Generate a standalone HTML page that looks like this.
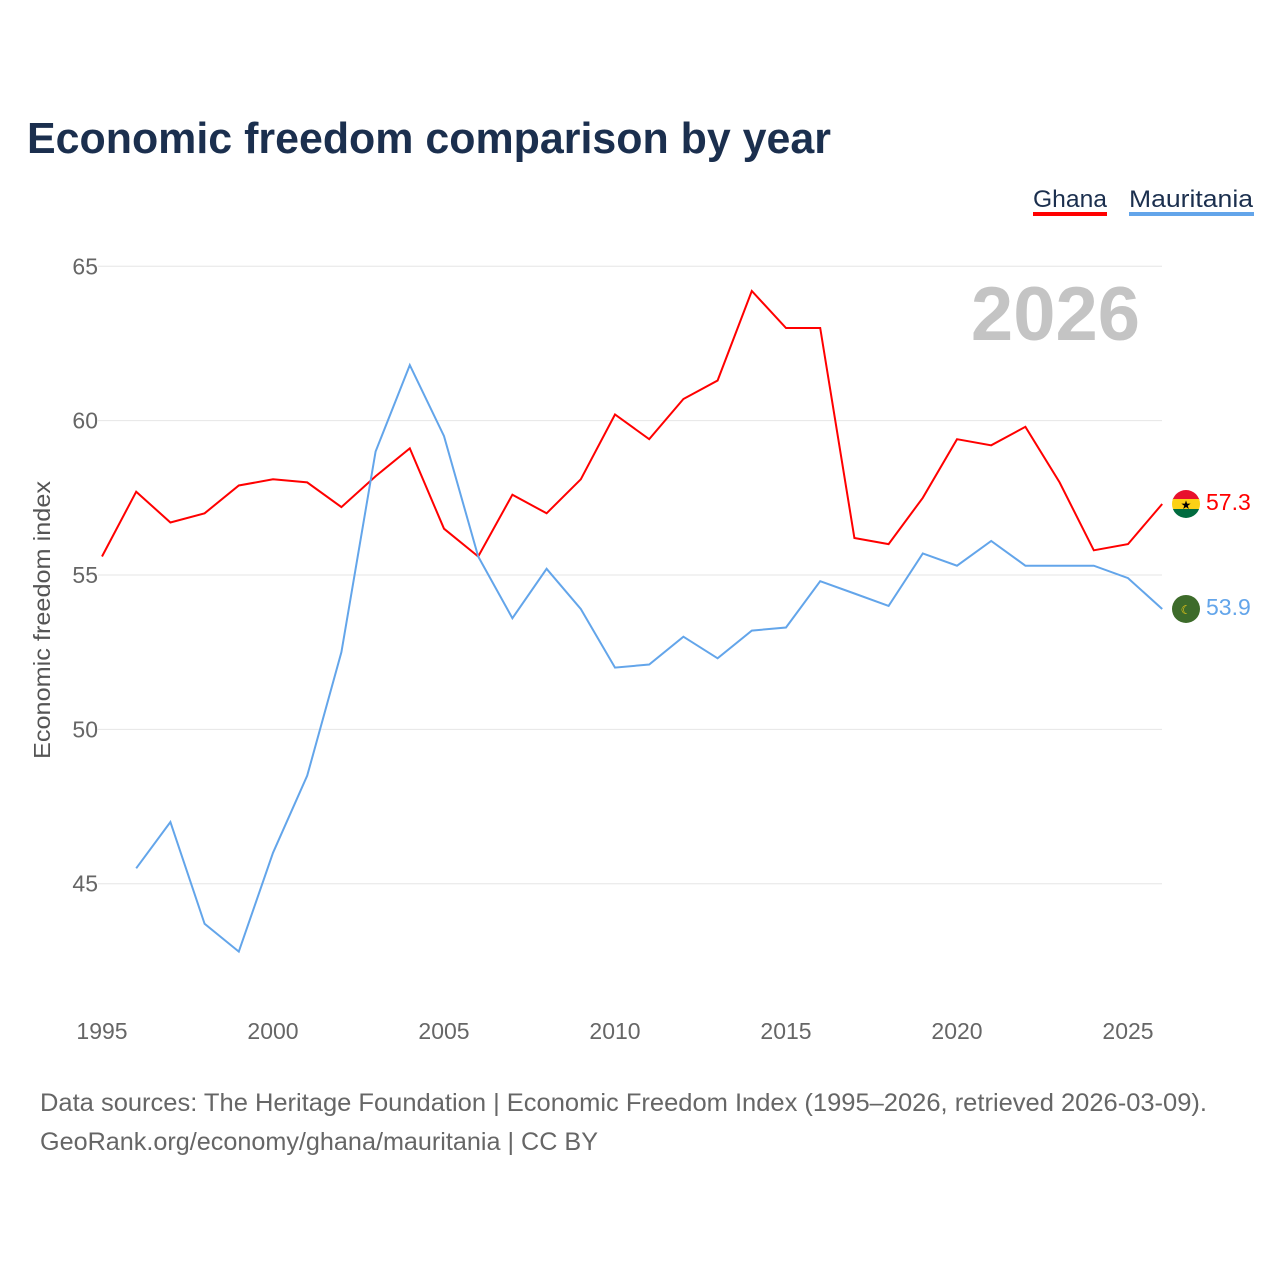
<!DOCTYPE html>
<html><head><meta charset="utf-8"><style>
body{margin:0;background:#fff;font-family:"Liberation Sans",sans-serif}
svg text{font-family:"Liberation Sans",sans-serif}
</style></head><body>
<svg id="c" width="1280" height="1280" viewBox="0 0 1280 1280">
<text x="27" y="153" font-size="44" font-weight="bold" fill="#1b2f4e" textLength="804" lengthAdjust="spacingAndGlyphs">Economic freedom comparison by year</text>
<g>
<text x="1033" y="207" font-size="24" fill="#1b2f4e" textLength="74" lengthAdjust="spacingAndGlyphs">Ghana</text>
<rect x="1033" y="212" width="74" height="4" fill="#ff0000"/>
<text x="1129" y="207" font-size="24" fill="#1b2f4e" textLength="124" lengthAdjust="spacingAndGlyphs">Mauritania</text>
<rect x="1129" y="212" width="125" height="4" fill="#63a5ea"/>
</g>
<text x="1140" y="340" font-size="76" font-weight="bold" fill="#c4c4c4" text-anchor="end">2026</text>
<text transform="translate(50,620) rotate(-90)" font-size="23" fill="#555" text-anchor="middle" textLength="278" lengthAdjust="spacingAndGlyphs">Economic freedom index</text>
<g id="grid"></g><g id="lines"></g>
<text x="40" y="1111" font-size="25" fill="#666" textLength="1167" lengthAdjust="spacingAndGlyphs">Data sources: The Heritage Foundation | Economic Freedom Index (1995–2026, retrieved 2026-03-09).</text>
<text x="40" y="1150" font-size="25" fill="#666" textLength="558" lengthAdjust="spacingAndGlyphs">GeoRank.org/economy/ghana/mauritania | CC BY</text>
</svg>
<script>
const years=[1995,1996,1997,1998,1999,2000,2001,2002,2003,2004,2005,2006,2007,2008,2009,2010,2011,2012,2013,2014,2015,2016,2017,2018,2019,2020,2021,2022,2023,2024,2025,2026];
const ghana=[55.6,57.7,56.7,57.0,57.9,58.1,58.0,57.2,58.2,59.1,56.5,55.6,57.6,57.0,58.1,60.2,59.4,60.7,61.3,64.2,63.0,63.0,56.2,56.0,57.5,59.4,59.2,59.8,58.0,55.8,56.0,57.3];
const mauritania=[null,45.5,47.0,43.7,42.8,46.0,48.5,52.5,59.0,61.8,59.5,55.6,53.6,55.2,53.9,52.0,52.1,53.0,52.3,53.2,53.3,54.8,54.4,54.0,55.7,55.3,56.1,55.3,55.3,55.3,54.9,53.9];
const yTicks=[45,50,55,60,65];
const xTicks=[1995,2000,2005,2010,2015,2020,2025];
const NS="http://www.w3.org/2000/svg";
const x=y=>102+(y-1995)*34.2;
const yy=v=>575-(v-55)*30.87;
const grid=document.getElementById('grid'),lines=document.getElementById('lines');
function mk(t,a,p){const e=document.createElementNS(NS,t);for(const k in a)e.setAttribute(k,a[k]);p.appendChild(e);return e;}
yTicks.forEach(v=>{
 const l=mk('line',{x1:98,x2:1162,y1:yy(v),y2:yy(v),stroke:'#e6e6e6','stroke-width':1},grid);
 
 
 const t=mk('text',{x:98,y:yy(v)+8,'font-size':23,fill:'#666','text-anchor':'end'},grid);t.textContent=v;
 
 
});
xTicks.forEach(v=>{
 const t=mk('text',{x:x(v),y:1039,'font-size':23,fill:'#666','text-anchor':'middle'},grid);t.textContent=v;
 
 
});
function series(vals,col,name){
 let d='';vals.forEach((v,i)=>{if(v==null)return;d+=(d?'L':'M')+x(years[i]).toFixed(1)+','+yy(v).toFixed(1);});
 const p=mk('path',{d:d,fill:'none',stroke:col,'stroke-width':2},lines);
 
 
 const last=vals[vals.length-1];
 const cy=yy(last);
 if(name=='ghana'){
  mk('clipPath',{id:'gc'},lines).appendChild(document.createElementNS(NS,'circle'));
  const cc=lines.querySelector('#gc circle');cc.setAttribute('cx',1186);cc.setAttribute('cy',cy);cc.setAttribute('r',14);
  const g=mk('g',{'clip-path':'url(#gc)'},lines);
  
  
  mk('rect',{x:1172,y:cy-14,width:28,height:10,fill:'#e8112d'},g);
  mk('rect',{x:1172,y:cy-5,width:28,height:10,fill:'#fcd116'},g);
  mk('rect',{x:1172,y:cy+5,width:28,height:10,fill:'#006b3f'},g);
  mk('text',{x:1186,y:cy+5,'font-size':12,'text-anchor':'middle',fill:'#000'},g).textContent='★';
 } else {
  const c=mk('circle',{cx:1186,cy:cy,r:14,fill:'#3d6b2a'},lines);
  
  
  mk('text',{x:1186,y:cy+5,'font-size':12,'text-anchor':'middle',fill:'#fcd116'},lines).textContent='☾';
 }
 const t=mk('text',{x:1206,y:cy+6,'font-size':23,fill:col},lines);t.textContent=last.toFixed(1);
 
 
}
series(ghana,'#ff0000','ghana');
series(mauritania,'#63a5ea','mauritania');
</script>
</body></html>
